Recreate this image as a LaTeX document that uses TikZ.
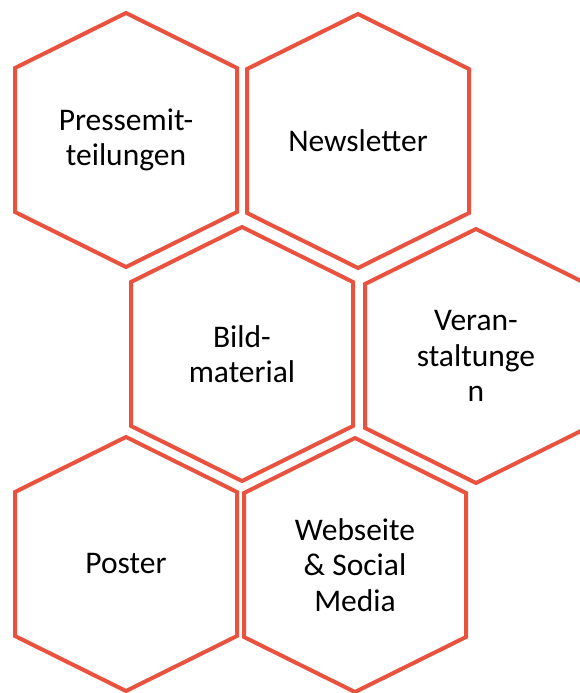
\documentclass[tikz,border=0pt]{standalone}
\usepackage{fontspec}
\setmainfont{Carlito}
\definecolor{hexred}{RGB}{233,82,62}
\tikzset{
  hexline/.style={draw=hexred, line width=4pt, line join=miter},
  hexlabel/.style={align=center, inner sep=0pt, font=\fontsize{31.5}{35.5}\selectfont, text=black}
}
\newcommand{\hexcell}[4]{%
  \node[hexlabel] (#1) at (#2,#3) {#4};
  \draw[hexline] (#2,#3-127) -- (#2+111,#3-72) -- (#2+111,#3+72) -- (#2,#3+127)
     -- (#2-111,#3+72) -- (#2-111,#3-72) -- cycle;
}
\begin{document}
\begin{tikzpicture}[x=1pt,y=-1pt]
\useasboundingbox (0,0) rectangle (580,693);
\clip (0,0) rectangle (580,693);
\fill[white] (0,0) rectangle (580,693);
\hexcell{presse}{126}{140}{Pressemit-\\teilungen}
\hexcell{news}{358}{141}{Newsletter}
\hexcell{bild}{242}{354}{Bild-\\material}
\hexcell{veran}{476}{356}{Veran-\\staltunge\\n}
\hexcell{poster}{126}{564}{Poster}
\hexcell{web}{355}{565}{Webseite\\\& Social\\Media}
\end{tikzpicture}
\end{document}
